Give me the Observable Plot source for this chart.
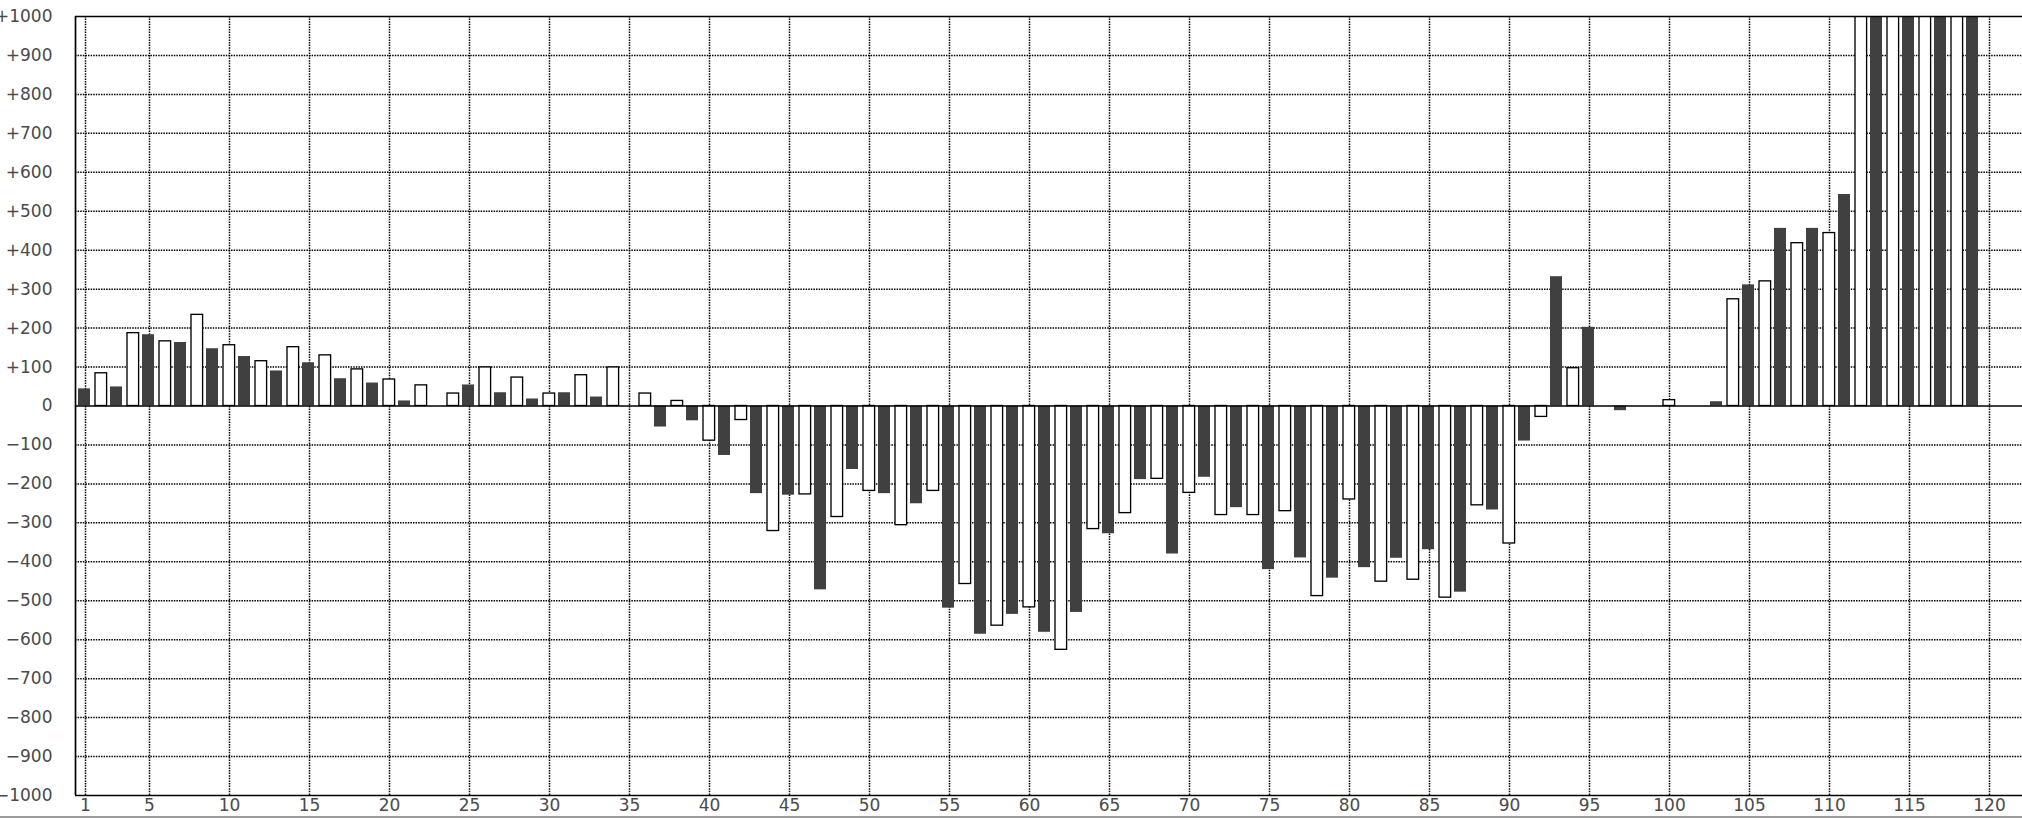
<!DOCTYPE html>
<html>
<head>
<meta charset="utf-8">
<script src="https://cdn.jsdelivr.net/npm/d3@7"></script>
<script src="https://cdn.jsdelivr.net/npm/@observablehq/plot@0.6"></script>
<style>
  html, body { margin: 0; padding: 0; background: #fff; overflow: hidden; }
  #chart svg { display: block; }
  #bottomline { width: 2022px; height: 2px; background: #9c9c9c; }
</style>
</head>
<body>
<div id="chart"></div>
<div id="bottomline"></div>
<script>
// Dark (filled) bars: odd positions 1, 3, 5, ... 119
const darkValues = [
  44, 49, 183, 163, 147, 127, 90, 111, 70, 59,
  13, 0, 54, 34, 18, 34, 23, 0, -54, -38,
  -127, -225, -229, -472, -163, -225, -251, -519, -586, -535,
  -581, -530, -328, -189, -380, -183, -261, -420, -390, -442,
  -415, -391, -369, -478, -267, -90, 332, 202, -12, 0,
  0, 11, 311, 456, 456, 543, 1200, 1200, 1200, 1200
];
// Light (outlined) bars: even positions 2, 4, 6, ... 120
const lightValues = [
  84, 187, 166, 234, 156, 115, 151, 130, 94, 68,
  53, 32, 99, 73, 32, 79, 99, 32, 13, -89,
  -36, -321, -227, -285, -218, -306, -218, -457, -564, -517,
  -626, -316, -275, -187, -223, -280, -280, -270, -488, -240,
  -451, -446, -492, -255, -353, -28, 97, 0, 0, 15,
  0, 274, 320, 418, 444, 1200, 1200, 1200, 1200, 0
];
const darkPositions = darkValues.map((_, i) => 2 * i + 1);
const lightPositions = lightValues.map((_, i) => 2 * i + 2);

const xTicks = [1, 5, 10, 15, 20, 25, 30, 35, 40, 45, 50, 55, 60, 65, 70, 75, 80, 85, 90, 95, 100, 105, 110, 115, 120];
const yTicks = [-1000, -900, -800, -700, -600, -500, -400, -300, -200, -100, 0, 100, 200, 300, 400, 500, 600, 700, 800, 900, 1000];
const yGrid = yTicks.filter(t => Math.abs(t) < 1000 && t !== 0);

const dark = darkValues.map((v, i) => ({pos: darkPositions[i], v})).filter(d => d.v !== 0);
const light = lightValues.map((v, i) => ({pos: lightPositions[i], v})).filter(d => d.v !== 0);

const xDomain = [0.375, 122.0625];
const yDomain = [-1000, 1000];

const fmtY = d => d > 0 ? "+" + d : d < 0 ? "\u2212" + (-d) : "0";

const dots = {stroke: "black", strokeWidth: 1.5, strokeDasharray: "1.5,1.1"};

const chart = Plot.plot({
  width: 2022,
  height: 816,
  marginLeft: 75,
  marginRight: 0,
  marginTop: 16,
  marginBottom: 21,
  style: {fontFamily: "'DejaVu Sans', sans-serif", fontSize: "17px", color: "#4a4a4a", background: "white", overflow: "visible"},
  x: {type: "linear", domain: xDomain, ticks: xTicks, tickSize: 0, tickPadding: 3, tickFormat: d => String(d), label: null},
  y: {domain: yDomain, ticks: yTicks, tickSize: 0, tickPadding: 23, tickFormat: fmtY, label: null},
  marks: [
    Plot.ruleY(yGrid, dots),
    Plot.ruleX(xTicks, dots),
    Plot.rect(dark, {
      x1: d => d.pos - 0.4375, x2: d => d.pos + 0.3125,
      y1: 0, y2: "v", fill: "#404040", clip: true
    }),
    Plot.rect(light, {
      x1: d => d.pos - 0.375, x2: d => d.pos + 0.35,
      y1: 0, y2: "v", fill: "white", stroke: "black", strokeWidth: 1.33, clip: true
    }),
    Plot.ruleY([yDomain[0], yDomain[1], 0], {stroke: "black", strokeWidth: 1.7}),
    Plot.ruleX([xDomain[0]], {stroke: "black", strokeWidth: 1.7})
  ]
});
document.getElementById("chart").appendChild(chart);
</script>
</body>
</html>
